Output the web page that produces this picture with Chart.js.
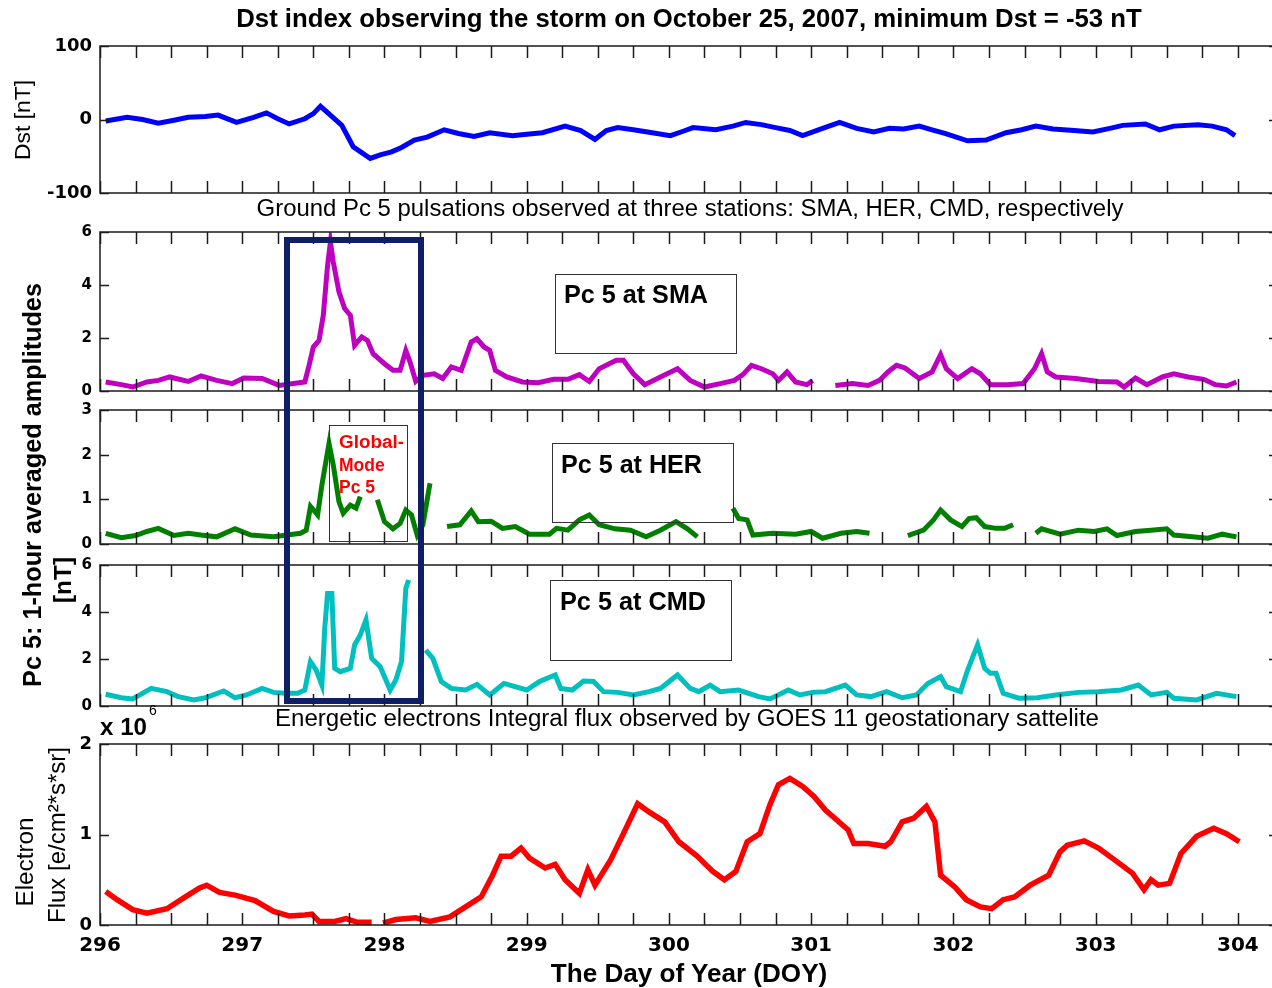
<!DOCTYPE html>
<html>
<head>
<meta charset="utf-8">
<script src="https://cdn.jsdelivr.net/npm/chart.js@4.4.1/dist/chart.umd.min.js"></script>
<style>
  body { margin: 0; background: #fff; width: 1272px; height: 988px; overflow: hidden; position: relative; }
  canvas { position: absolute; left: 0; }
  .box { position: absolute; border: 1px solid #333; box-sizing: border-box; }
</style>
</head>
<body>
<canvas id="cDst"></canvas>
<canvas id="cSma"></canvas>
<canvas id="cHer"></canvas>
<canvas id="cCmd"></canvas>
<canvas id="cFlux"></canvas>
<script>
// x axis: day of year
const xMin = 296, xMax = 304.24;

// Dst index [nT]
const dstDoy = [296.04, 296.19, 296.30, 296.41, 296.52, 296.62, 296.74, 296.83, 296.96, 297.08, 297.17, 297.25, 297.33, 297.44, 297.50, 297.55, 297.62, 297.70, 297.78, 297.84, 297.90, 297.97, 298.05, 298.12, 298.21, 298.30, 298.42, 298.52, 298.63, 298.74, 298.90, 299.00, 299.11, 299.27, 299.38, 299.48, 299.56, 299.64, 299.75, 299.85, 300.01, 300.10, 300.17, 300.33, 300.45, 300.54, 300.65, 300.75, 300.85, 300.94, 301.08, 301.20, 301.32, 301.44, 301.55, 301.65, 301.76, 301.85, 301.94, 302.10, 302.23, 302.37, 302.48, 302.58, 302.70, 302.85, 302.98, 303.10, 303.19, 303.35, 303.45, 303.55, 303.72, 303.82, 303.92, 303.98];
const dstVal = [-2, 3, 0, -5, -1, 3, 4, 6, -4, 3, 9, 1, -6, 1, 8, 18, 6, -8, -37, -45, -53, -48, -44, -38, -28, -24, -14, -19, -23, -18, -22, -20, -18, -9, -15, -27, -15, -11, -14, -17, -22, -16, -11, -14, -9, -4, -7, -11, -15, -22, -12, -4, -12, -17, -12, -13, -9, -14, -19, -29, -28, -18, -14, -9, -13, -15, -17, -12, -8, -6, -14, -9, -7, -9, -14, -22];

// Pc5 amplitude at SMA [nT]
const smaDoy = [296.04, 296.15, 296.23, 296.33, 296.41, 296.49, 296.62, 296.71, 296.82, 296.93, 297.01, 297.14, 297.26, 297.36, 297.44, 297.47, 297.50, 297.54, 297.57, 297.60, 297.62, 297.64, 297.68, 297.72, 297.76, 297.79, 297.84, 297.88, 297.92, 298.00, 298.06, 298.11, 298.15, 298.18, 298.22, 298.27, 298.35, 298.41, 298.47, 298.54, 298.61, 298.65, 298.70, 298.74, 298.78, 298.86, 298.97, 299.08, 299.19, 299.29, 299.37, 299.44, 299.51, 299.63, 299.68, 299.75, 299.83, 299.94, 300.06, 300.15, 300.25, 300.36, 300.46, 300.52, 300.58, 300.65, 300.73, 300.77, 300.83, 300.89, 300.97, 301.01, 301.09, 301.17, 301.29, 301.40, 301.48, 301.54, 301.60, 301.66, 301.76, 301.85, 301.91, 301.95, 302.03, 302.13, 302.19, 302.26, 302.38, 302.49, 302.57, 302.62, 302.66, 302.72, 302.86, 303.02, 303.15, 303.20, 303.28, 303.36, 303.47, 303.55, 303.65, 303.76, 303.84, 303.92, 303.99];
const smaVal = [0.34, 0.24, 0.15, 0.34, 0.40, 0.53, 0.36, 0.57, 0.40, 0.28, 0.49, 0.47, 0.21, 0.28, 0.34, 0.97, 1.66, 1.91, 2.86, 4.74, 5.62, 4.87, 3.74, 3.11, 2.86, 1.72, 2.04, 1.91, 1.41, 1.03, 0.78, 0.78, 1.53, 1.09, 0.36, 0.59, 0.65, 0.47, 0.91, 0.78, 1.85, 1.97, 1.66, 1.53, 0.78, 0.53, 0.34, 0.31, 0.44, 0.44, 0.62, 0.36, 0.84, 1.16, 1.16, 0.65, 0.24, 0.53, 0.84, 0.40, 0.15, 0.28, 0.40, 0.62, 0.97, 0.84, 0.65, 0.40, 0.72, 0.34, 0.24, 0.40, null, 0.21, 0.28, 0.21, 0.40, 0.72, 0.97, 0.87, 0.47, 0.72, 1.37, 0.84, 0.47, 0.84, 0.65, 0.24, 0.24, 0.28, 0.84, 1.41, 0.72, 0.53, 0.47, 0.36, 0.34, 0.15, 0.49, 0.24, 0.53, 0.65, 0.53, 0.44, 0.24, 0.19, 0.34];

// Pc5 amplitude at HER [nT]
const herDoy = [296.04, 296.15, 296.25, 296.33, 296.41, 296.52, 296.62, 296.71, 296.82, 296.95, 297.06, 297.22, 297.41, 297.45, 297.48, 297.53, 297.56, 297.61, 297.64, 297.68, 297.71, 297.76, 297.80, 297.83, 297.89, 297.95, 298.00, 298.06, 298.11, 298.15, 298.19, 298.23, 298.27, 298.32, 298.38, 298.44, 298.53, 298.61, 298.66, 298.75, 298.83, 298.92, 299.02, 299.16, 299.21, 299.29, 299.37, 299.44, 299.51, 299.62, 299.73, 299.84, 299.94, 300.05, 300.13, 300.20, 300.33, 300.45, 300.49, 300.55, 300.59, 300.73, 300.89, 301.00, 301.08, 301.21, 301.32, 301.41, 301.55, 301.68, 301.79, 301.86, 301.91, 301.98, 302.06, 302.11, 302.16, 302.22, 302.30, 302.36, 302.42, 302.50, 302.58, 302.62, 302.75, 302.88, 302.99, 303.08, 303.15, 303.28, 303.39, 303.50, 303.55, 303.68, 303.79, 303.89, 303.99];
const herVal = [0.24, 0.14, 0.19, 0.28, 0.35, 0.19, 0.24, 0.20, 0.16, 0.34, 0.20, 0.16, 0.24, 0.31, 0.84, 0.65, 1.32, 2.25, 1.77, 0.95, 0.69, 0.87, 0.80, 1.06, null, 0.99, 0.50, 0.34, 0.46, 0.76, 0.65, 0.20, 0.43, 1.36, null, 0.39, 0.43, 0.74, 0.50, 0.51, 0.35, 0.39, 0.22, 0.22, 0.35, 0.31, 0.54, 0.65, 0.43, 0.34, 0.31, 0.16, 0.31, 0.50, 0.34, 0.16, null, 0.80, 0.57, 0.54, 0.20, 0.24, 0.22, 0.28, 0.13, 0.24, 0.28, 0.24, null, 0.19, 0.31, 0.54, 0.76, 0.54, 0.39, 0.57, 0.59, 0.39, 0.35, 0.35, 0.43, null, 0.24, 0.34, 0.22, 0.31, 0.28, 0.34, 0.19, 0.28, 0.31, 0.34, 0.20, 0.16, 0.13, 0.22, 0.16];

// Pc5 amplitude at CMD [nT]
const cmdDoy = [296.04, 296.15, 296.23, 296.36, 296.47, 296.55, 296.66, 296.74, 296.87, 296.95, 297.03, 297.14, 297.22, 297.30, 297.39, 297.44, 297.48, 297.52, 297.56, 297.58, 297.60, 297.63, 297.65, 297.69, 297.76, 297.79, 297.83, 297.87, 297.91, 297.97, 298.04, 298.08, 298.12, 298.15, 298.17, 298.23, 298.29, 298.34, 298.40, 298.47, 298.57, 298.65, 298.74, 298.84, 299.00, 299.09, 299.20, 299.24, 299.32, 299.40, 299.47, 299.54, 299.64, 299.75, 299.86, 299.94, 300.06, 300.15, 300.21, 300.29, 300.36, 300.49, 300.63, 300.71, 300.84, 300.92, 301.01, 301.10, 301.24, 301.32, 301.42, 301.53, 301.64, 301.74, 301.82, 301.91, 301.95, 302.05, 302.10, 302.17, 302.22, 302.26, 302.30, 302.35, 302.46, 302.59, 302.72, 302.88, 303.02, 303.18, 303.30, 303.39, 303.50, 303.55, 303.71, 303.85, 303.99];
const cmdVal = [0.50, 0.35, 0.30, 0.75, 0.61, 0.40, 0.26, 0.35, 0.64, 0.35, 0.47, 0.75, 0.58, 0.54, 0.54, 0.68, 1.89, 1.53, 0.89, 3.30, 4.79, 4.79, 1.60, 1.46, 1.60, 2.60, 3.02, 3.66, 2.03, 1.67, 0.68, 1.11, 1.89, 5.00, 5.36, null, 2.38, 2.03, 1.04, 0.75, 0.68, 0.92, 0.47, 0.96, 0.68, 1.04, 1.32, 0.75, 0.68, 1.06, 1.04, 0.61, 0.58, 0.47, 0.61, 0.75, 1.32, 0.75, 0.61, 0.89, 0.61, 0.68, 0.40, 0.30, 0.68, 0.47, 0.58, 0.61, 0.89, 0.47, 0.40, 0.61, 0.35, 0.47, 0.96, 1.25, 0.82, 0.61, 1.53, 2.60, 1.60, 1.39, 1.39, 0.54, 0.33, 0.35, 0.47, 0.58, 0.61, 0.68, 0.89, 0.47, 0.58, 0.33, 0.26, 0.54, 0.40];

// GOES 11 electron integral flux, in units of 10^6 e/(cm^2 s sr)
const fluxDoy = [296.04, 296.12, 296.23, 296.33, 296.47, 296.60, 296.70, 296.75, 296.84, 296.95, 297.09, 297.22, 297.33, 297.44, 297.49, 297.54, 297.65, 297.73, 297.81, 297.91, 297.95, 297.99, 298.08, 298.22, 298.32, 298.46, 298.57, 298.68, 298.76, 298.82, 298.89, 298.96, 299.02, 299.13, 299.20, 299.27, 299.37, 299.43, 299.48, 299.59, 299.68, 299.78, 299.86, 299.97, 300.07, 300.20, 300.31, 300.39, 300.47, 300.55, 300.64, 300.71, 300.77, 300.85, 300.94, 301.02, 301.10, 301.18, 301.26, 301.30, 301.40, 301.52, 301.56, 301.64, 301.72, 301.81, 301.87, 301.91, 302.01, 302.09, 302.19, 302.27, 302.35, 302.43, 302.54, 302.67, 302.75, 302.80, 302.92, 303.02, 303.15, 303.26, 303.34, 303.39, 303.44, 303.52, 303.60, 303.71, 303.83, 303.92, 304.01];
const fluxVal = [0.37, 0.28, 0.17, 0.13, 0.18, 0.31, 0.41, 0.44, 0.36, 0.33, 0.27, 0.15, 0.10, 0.11, 0.12, 0.04, 0.04, 0.07, 0.03, 0.03, null, 0.02, 0.06, 0.08, 0.04, 0.09, 0.20, 0.31, 0.55, 0.76, 0.76, 0.85, 0.74, 0.63, 0.67, 0.50, 0.35, 0.61, 0.44, 0.72, 1.01, 1.34, 1.25, 1.14, 0.92, 0.76, 0.59, 0.50, 0.59, 0.92, 1.01, 1.33, 1.55, 1.62, 1.53, 1.42, 1.27, 1.16, 1.05, 0.90, 0.90, 0.87, 0.92, 1.14, 1.18, 1.31, 1.14, 0.55, 0.42, 0.28, 0.20, 0.18, 0.28, 0.31, 0.44, 0.55, 0.81, 0.88, 0.93, 0.85, 0.70, 0.57, 0.39, 0.50, 0.44, 0.46, 0.79, 0.98, 1.07, 1.01, 0.92];

// highlighted interval (blue frame) and its vertical extent
const boxDoy = [297.315, 298.257];
const boxSmaTop = 5.70, boxCmdBottom = 0.21;

const tickFont = 'DejaVu Sans';
const textFont = '"Liberation Sans", Arial, sans-serif';

function pts(xs, ys) {
  return xs.map((x, i) => ({ x: x, y: ys[i] }));
}

// matlab-like frame with inward ticks
const frameTicks = {
  id: 'frameTicks',
  afterDraw(chart) {
    const { ctx, chartArea: a } = chart;
    const x = chart.scales.x, y = chart.scales.y;
    ctx.save();
    ctx.strokeStyle = '#1a1a1a';
    ctx.lineWidth = 1.5;
    ctx.beginPath();
    ctx.moveTo(a.right + 2, a.top);
    ctx.lineTo(a.left, a.top);
    ctx.lineTo(a.left, a.bottom);
    ctx.lineTo(a.right + 2, a.bottom);
    x.ticks.forEach(t => {
      const px = Math.round(x.getPixelForValue(t.value)) + 0.5;
      ctx.moveTo(px, a.top); ctx.lineTo(px, a.top + 12);
      ctx.moveTo(px, a.bottom); ctx.lineTo(px, a.bottom - 12);
    });
    y.ticks.forEach(t => {
      const py = Math.round(y.getPixelForValue(t.value)) + 0.5;
      ctx.moveTo(a.left, py); ctx.lineTo(a.left + 9, py);
      ctx.moveTo(a.right + 6, py); ctx.lineTo(a.right - 3, py);
    });
    ctx.stroke();
    ctx.restore();
  }
};

function makePanel(p) {
  // padding larger than the y labels' own overflow so the plot area stays where it is set
  const padTop = 24;
  const padBottom = p.showX ? 0 : 24;
  const xH = p.showX ? 988 - p.bottom : 0;
  const cv = document.getElementById(p.id);
  cv.width = 1272;
  cv.height = p.bottom - p.top + padTop + padBottom + xH;
  cv.style.top = (p.top - padTop) + 'px';
  const chart = new Chart(cv, {
    type: 'line',
    data: {
      datasets: [{
        data: pts(p.xs, p.ys),
        borderColor: p.color,
        borderWidth: p.lw,
        pointRadius: 0,
        tension: 0,
        spanGaps: false,
        fill: false
      }]
    },
    options: {
      responsive: false,
      animation: false,
      layout: { padding: { top: padTop, bottom: padBottom, left: 0, right: 0 } },
      plugins: { legend: { display: false }, tooltip: { enabled: false } },
      scales: {
        x: {
          type: 'linear',
          min: xMin,
          max: xMax,
          ticks: {
            display: p.showX,
            stepSize: 0.25,
            includeBounds: false,
            autoSkip: false,
            maxRotation: 0,
            padding: 9,
            color: '#000',
            font: { family: tickFont, size: 20, weight: 'bold' },
            callback: v => Number.isInteger(v) ? String(v) : ''
          },
          grid: { display: false, drawTicks: false },
          border: { display: false },
          afterFit: s => { s.height = xH; }
        },
        y: {
          min: p.min,
          max: p.max,
          ticks: {
            stepSize: p.step,
            padding: 8,
            color: '#000',
            font: { family: tickFont, size: p.font, weight: 'bold' }
          },
          grid: { display: false, drawTicks: false },
          border: { display: false },
          afterFit: s => { s.width = 100; }
        }
      }
    },
    plugins: [frameTicks]
  });
  chart.offsetTop = p.top - padTop;
  return chart;
}

const dstChart = makePanel({ id: 'cDst', top: 46, bottom: 193, xs: dstDoy, ys: dstVal, color: '#0000ff', lw: 5, min: -100, max: 100, step: 100, font: 18 });
const smaChart = makePanel({ id: 'cSma', top: 232, bottom: 391, xs: smaDoy, ys: smaVal, color: '#c000c0', lw: 5, min: 0, max: 6, step: 2, font: 15 });
const herChart = makePanel({ id: 'cHer', top: 410, bottom: 544, xs: herDoy, ys: herVal, color: '#007f00', lw: 5, min: 0, max: 3, step: 1, font: 15 });
const cmdChart = makePanel({ id: 'cCmd', top: 565, bottom: 706, xs: cmdDoy, ys: cmdVal, color: '#00bfbf', lw: 5, min: 0, max: 6, step: 2, font: 15 });
const fluxChart = makePanel({ id: 'cFlux', top: 744, bottom: 925, xs: fluxDoy, ys: fluxVal, color: '#ff0000', lw: 5.5, min: 0, max: 2, step: 1, font: 18, showX: true });

// text helpers, font size fitted to the measured width in the reference
const mctx = document.createElement('canvas').getContext('2d');
function placeText(txt, o) {
  const weight = o.bold ? 'bold' : 'normal';
  const fam = o.family || textFont;
  mctx.font = weight + ' 100px ' + fam;
  const size = o.size || 100 * o.w / mctx.measureText(txt).width;
  const el = document.createElement('div');
  el.textContent = txt;
  let tr;
  if (o.rot) tr = 'translate(-50%,-50%) rotate(-90deg)';
  else if (o.left) tr = 'translate(0,-50%)';
  else tr = 'translate(-50%,-50%)';
  el.style.cssText = 'position:absolute;white-space:nowrap;line-height:1;left:' + o.x + 'px;top:' + o.y + 'px;font:' +
    weight + ' ' + size.toFixed(2) + 'px ' + fam + ';color:' + (o.color || '#000') + ';transform:' + tr + ';';
  document.body.appendChild(el);
}
function placeBox(x0, y0, x1, y1) {
  const el = document.createElement('div');
  el.className = 'box';
  el.style.left = x0 + 'px'; el.style.top = y0 + 'px';
  el.style.width = (x1 - x0) + 'px'; el.style.height = (y1 - y0) + 'px';
  document.body.appendChild(el);
}

placeText('Dst index observing the storm on October 25, 2007, minimum Dst = -53 nT', { x: 689, y: 18, w: 906, bold: true });
placeText('Ground Pc 5 pulsations observed at three stations: SMA, HER, CMD, respectively', { x: 690, y: 208, w: 867 });
placeText('Energetic electrons Integral flux observed by GOES 11 geostationary sattelite', { x: 687, y: 718, w: 824 });
placeText('The Day of Year (DOY)', { x: 689, y: 973, w: 277, bold: true });

placeText('Dst [nT]', { x: 22, y: 120, w: 80, rot: true });
placeText('Pc 5: 1-hour averaged amplitudes', { x: 32, y: 485, w: 404, bold: true, rot: true });
placeText('[nT]', { x: 63, y: 580, w: 46, bold: true, rot: true });
placeText('Electron', { x: 25, y: 862, w: 89, rot: true });
placeText('Flux [e/cm\u00b2*s*sr]', { x: 57, y: 835, w: 176, rot: true });

placeText('x 10', { x: 100, y: 727, w: 47, bold: true, left: true });
placeText('6', { x: 149, y: 710, size: 14, left: true });

// station labels
placeBox(555, 274, 737, 354);
placeText('Pc 5 at SMA', { x: 564, y: 294, w: 144, bold: true, left: true });
placeBox(552, 443, 734, 523);
placeText('Pc 5 at HER', { x: 561, y: 464, w: 141, bold: true, left: true });
placeBox(550, 580, 732, 661);
placeText('Pc 5 at CMD', { x: 560, y: 601, w: 146, bold: true, left: true });

placeBox(329, 425, 408, 542);
placeText('Global-', { x: 339, y: 442, w: 65, bold: true, left: true, color: '#ff0000' });
placeText('Mode', { x: 339, y: 465, size: 17.5, bold: true, left: true, color: '#ff0000' });
placeText('Pc 5', { x: 339, y: 487, size: 17.5, bold: true, left: true, color: '#ff0000' });

// blue frame over the storm interval, positioned through the chart scales
(function () {
  const x0 = smaChart.scales.x.getPixelForValue(boxDoy[0]);
  const x1 = smaChart.scales.x.getPixelForValue(boxDoy[1]);
  const y0 = smaChart.offsetTop + smaChart.scales.y.getPixelForValue(boxSmaTop);
  const y1 = cmdChart.offsetTop + cmdChart.scales.y.getPixelForValue(boxCmdBottom);
  const el = document.createElement('div');
  el.style.cssText = 'position:absolute;box-sizing:border-box;border:6px solid #0f1f66;left:' + (x0 - 3) + 'px;top:' + (y0 - 3) +
    'px;width:' + (x1 - x0 + 6) + 'px;height:' + (y1 - y0 + 6) + 'px;';
  document.body.appendChild(el);
})();
</script>
</body>
</html>
